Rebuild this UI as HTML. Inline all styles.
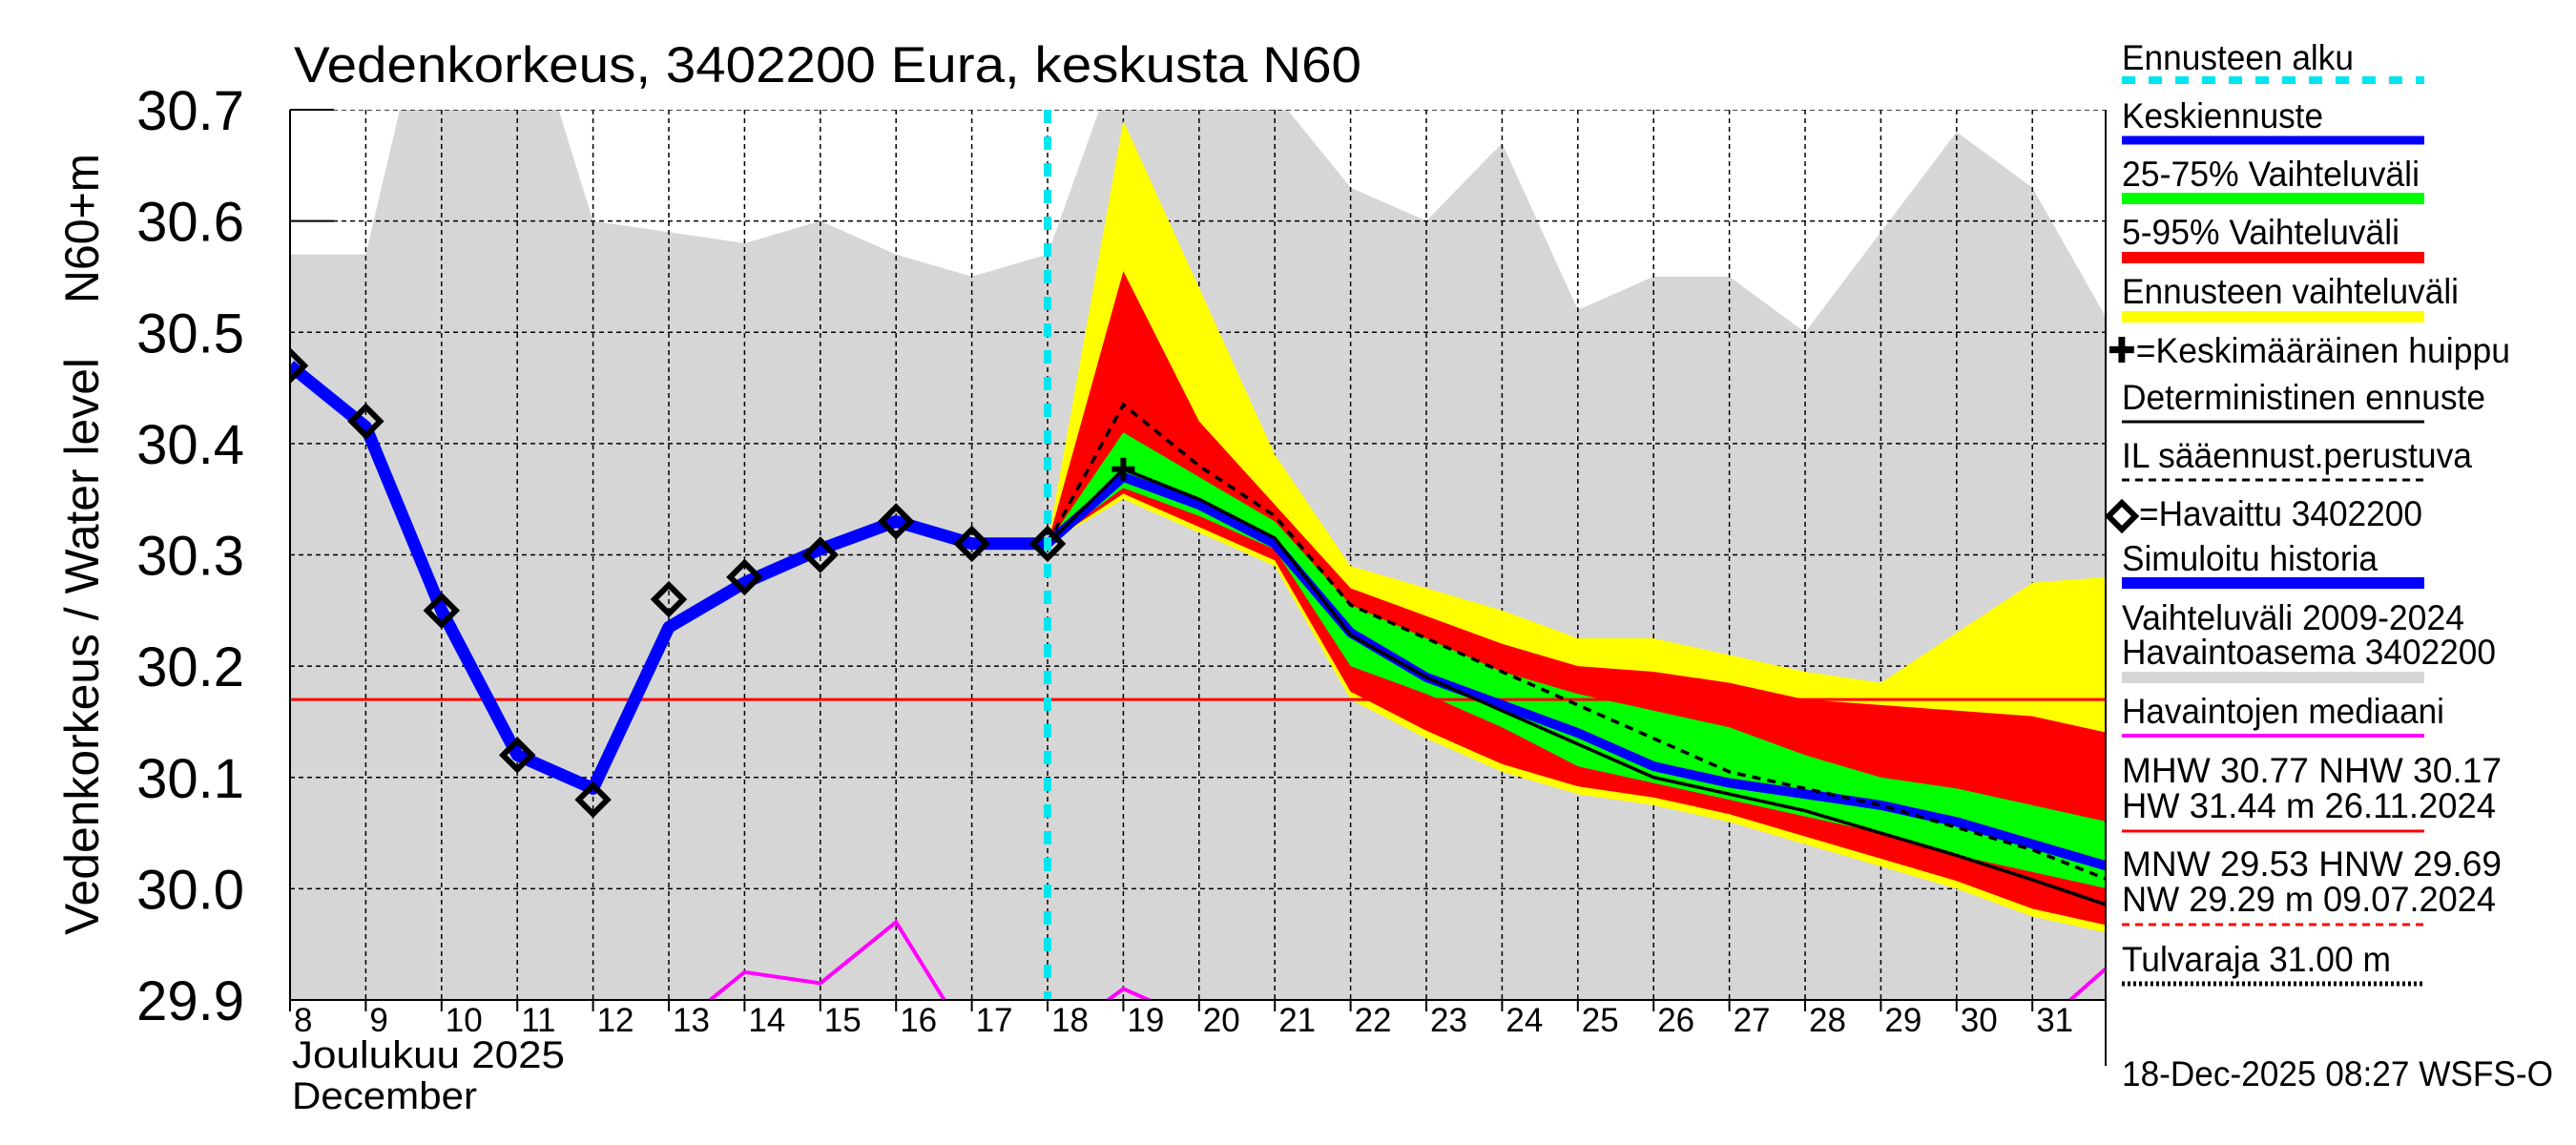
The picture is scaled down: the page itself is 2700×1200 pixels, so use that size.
<!DOCTYPE html>
<html><head><meta charset="utf-8"><style>
html,body{margin:0;padding:0;background:#fff;}
svg{display:block;font-family:"Liberation Sans",sans-serif;}
</style></head><body>
<svg id="chart" width="2700" height="1200" viewBox="0 0 2700 1200">
<defs><clipPath id="plotclip"><rect x="304" y="115" width="1903" height="933"/></clipPath></defs>
<g id="bands" clip-path="url(#plotclip)"></g>
<g id="axes"></g>
<g id="legend"></g>
</svg>
<script>
const days = [8,9,10,11,12,13,14,15,16,17,18,19,20,21,22,23,24,25,26,27,28,29,30,31,32];
const histUpper = [30.57,30.57,30.86,30.82,30.60,30.59,30.58,30.60,30.57,30.55,30.57,30.76,30.80,30.714,30.63,30.60,30.67,30.52,30.55,30.55,30.50,30.59,30.68,30.63,30.51];
const obsDays = [8,9,10,11,12,13,14,15,16,17,18];
const observed = [30.47,30.42,30.25,30.12,30.08,30.26,30.28,30.30,30.33,30.31,30.31];
const simulated = [30.47,30.415,30.25,30.12,30.09,30.235,30.275,30.305,30.33,30.31,30.31];
const fcDays = [18,19,20,21,22,23,24,25,26,27,28,29,30,31,32];
const yellowHi = [30.31,30.69,30.54,30.39,30.29,30.27,30.25,30.225,30.225,30.21,30.195,30.185,30.23,30.275,30.28];
const yellowLo = [30.31,30.35,30.32,30.29,30.17,30.135,30.105,30.085,30.075,30.06,30.04,30.02,30.0,29.975,29.96];
const redHi = [30.31,30.555,30.42,30.345,30.27,30.245,30.22,30.2,30.195,30.185,30.17,30.165,30.16,30.155,30.14];
const redLo = [30.31,30.355,30.325,30.295,30.177,30.142,30.112,30.092,30.082,30.067,30.047,30.027,30.007,29.982,29.967];
const greenHi = [30.31,30.41,30.37,30.33,30.255,30.225,30.195,30.175,30.16,30.145,30.12,30.1,30.09,30.075,30.06];
const greenLo = [30.31,30.36,30.335,30.305,30.2,30.175,30.145,30.11,30.095,30.08,30.065,30.05,30.03,30.015,30.0];
const meanFc = [30.31,30.37,30.345,30.31,30.23,30.19,30.165,30.14,30.11,30.095,30.085,30.075,30.06,30.04,30.02];
const determ = [30.31,30.377,30.35,30.315,30.228,30.19,30.16,30.13,30.1,30.085,30.07,30.05,30.03,30.008,29.985];
const ilFc = [30.31,30.435,30.38,30.335,30.255,30.225,30.195,30.165,30.135,30.105,30.09,30.075,30.055,30.035,30.008];
const median = [29.80,29.80,29.80,29.80,29.80,29.87,29.925,29.915,29.97,29.86,29.86,29.91,29.88,29.85,29.85,29.85,29.85,29.85,29.85,29.85,29.85,29.85,29.85,29.87,29.93];
const yTicks = [29.9,30.0,30.1,30.2,30.3,30.4,30.5,30.6,30.7];
const yTickLabels = ["29.9","30.0","30.1","30.2","30.3","30.4","30.5","30.6","30.7"];
const xTickLabels = ["8","9","10","11","12","13","14","15","16","17","18","19","20","21","22","23","24","25","26","27","28","29","30","31"];
const forecastStart = 18;
const medianLevel = 30.17;

const NS="http://www.w3.org/2000/svg";
const X = d => 304 + (d-8)*79.4;
const Y = v => 115 + (30.7-v)*1166.25;
const bands=document.getElementById('bands'), axes=document.getElementById('axes'), legend=document.getElementById('legend');
function mk(parent,tag,attrs){const e=document.createElementNS(NS,tag);for(const k in attrs)e.setAttribute(k,attrs[k]);parent.appendChild(e);return e;}
function pts(xs,vs){return xs.map((d,i)=>X(d).toFixed(1)+','+Y(vs[i]).toFixed(1)).join(' ');}
function bandPts(xs,hi,lo){return pts(xs,hi)+' '+pts(xs.slice().reverse(),lo.slice().reverse());}

let e;
e=mk(bands,'rect',{x:304,y:115,width:1903,height:933,fill:'#fff'});


e=mk(bands,'polygon',{points:pts(days,histUpper)+' '+X(32)+','+(Y(29.9)+20)+' '+X(8)+','+(Y(29.9)+20),fill:'#d6d6d6'});


yTicks.forEach(v=>{e=mk(bands,'line',{x1:304,x2:2207,y1:Y(v),y2:Y(v),stroke:'#000','stroke-width':1.5,'stroke-dasharray':'5,4'});

});
xTickLabels.forEach((t,i)=>{e=mk(bands,'line',{x1:X(8+i),x2:X(8+i),y1:115,y2:1048,stroke:'#000','stroke-width':1.5,'stroke-dasharray':'5,4'});

});
e=mk(bands,'polygon',{points:bandPts(fcDays,yellowHi,yellowLo),fill:'#ffff00'});


e=mk(bands,'polygon',{points:bandPts(fcDays,redHi,redLo),fill:'#ff0000'});


e=mk(bands,'polygon',{points:bandPts(fcDays,greenHi,greenLo),fill:'#00ff00'});


e=mk(bands,'line',{x1:304,x2:2207,y1:Y(medianLevel),y2:Y(medianLevel),stroke:'#ff0000','stroke-width':3});


e=mk(bands,'polyline',{points:pts(days,median),fill:'none',stroke:'#ff00ff','stroke-width':4});


e=mk(bands,'polyline',{points:pts(obsDays,simulated),fill:'none',stroke:'#0000ff','stroke-width':13,'stroke-linejoin':'round'});


e=mk(bands,'polyline',{points:pts(fcDays,meanFc),fill:'none',stroke:'#0000ff','stroke-width':10});


e=mk(bands,'polyline',{points:pts(fcDays,determ),fill:'none',stroke:'#000','stroke-width':3.5});


e=mk(bands,'polyline',{points:pts(fcDays,ilFc),fill:'none',stroke:'#000','stroke-width':3.5,'stroke-dasharray':'9,7'});


e=mk(bands,'line',{x1:X(forecastStart),x2:X(forecastStart),y1:115,y2:1048,stroke:'#00e5ee','stroke-width':8,'stroke-dasharray':'14,14'});


obsDays.forEach((d,i)=>{const cx=X(d),cy=Y(observed[i]);
e=mk(bands,'polygon',{points:`${cx},${cy-15} ${cx+15},${cy} ${cx},${cy+15} ${cx-15},${cy}`,fill:'none',stroke:'#000','stroke-width':6});

});
{const cx=X(19),cy=Y(determ[1]);
e=mk(bands,'path',{d:`M${cx-12},${cy}H${cx+12}M${cx},${cy-12}V${cy+12}`,stroke:'#000','stroke-width':6});

}

e=mk(axes,'line',{x1:304,x2:304,y1:115,y2:1048,stroke:'#000','stroke-width':2});


e=mk(axes,'line',{x1:304,x2:2207,y1:1048,y2:1048,stroke:'#000','stroke-width':2});


e=mk(axes,'line',{x1:2207,x2:2207,y1:115,y2:1117,stroke:'#000','stroke-width':2});


[30.7,30.6].forEach(v=>{e=mk(axes,'line',{x1:304,x2:350,y1:Y(v),y2:Y(v),stroke:'#000','stroke-width':2});

});
yTicks.forEach((v,i)=>{e=mk(axes,'text',{x:256,y:Y(v)+21,'font-size':58,'text-anchor':'end'});e.textContent=yTickLabels[i];

});
xTickLabels.forEach((t,i)=>{const x=X(8+i);
e=mk(axes,'line',{x1:x,x2:x,y1:1048,y2:1060,stroke:'#000','stroke-width':2});


e=mk(axes,'text',{x:x+4,y:1081,'font-size':35});e.textContent=t;

});
function txt(parent,x,y,size,s,name,len,extra){const a={x:x,y:y,'font-size':size};if(len){a.textLength=len;a.lengthAdjust='spacingAndGlyphs';}Object.assign(a,extra||{});const t=mk(parent,'text',a);t.textContent=s;return t;}
txt(axes,308,86,53,'Vedenkorkeus, 3402200 Eura, keskusta N60','chart-title',1119);
txt(axes,306,1119,40,'Joulukuu  2025','x-month-label',286,{'xml:space':'preserve'});
txt(axes,306,1162,40,'December','x-month-label-en',194);
txt(axes,0,0,50,'Vedenkorkeus / Water level','y-axis-title',605,{transform:'translate(103,980) rotate(-90)'});
txt(axes,0,0,50,'N60+m','y-axis-unit',157,{transform:'translate(103,318) rotate(-90)'});
txt(axes,2224,1138,37,'18-Dec-2025 08:27 WSFS-O','timestamp',452);

const L=2224, R=2541;
function lline(y,stroke,w,dash,name){const a={x1:L,x2:R,y1:y,y2:y,stroke:stroke,'stroke-width':w};if(dash)a['stroke-dasharray']=dash;const l=mk(legend,'line',a);}
txt(legend,L,73,37,'Ennusteen alku','legend-forecast-start',243); lline(84,'#00e5ee',8,'14,14','legend-forecast-start-line');
txt(legend,L,134,37,'Keskiennuste','legend-mean-forecast',211); lline(147,'#0000ff',9,null,'legend-mean-forecast-line');
txt(legend,L,195,37,'25-75% Vaihteluväli','legend-band-25-75',312); lline(208,'#00ff00',12,null,'legend-band-25-75-swatch');
txt(legend,L,256,37,'5-95% Vaihteluväli','legend-band-5-95',291); lline(270,'#ff0000',12,null,'legend-band-5-95-swatch');
txt(legend,L,318,37,'Ennusteen vaihteluväli','legend-forecast-range',353); lline(332,'#ffff00',12,null,'legend-forecast-range-swatch');
txt(legend,2209,380,37,'✚=Keskimääräinen huippu','legend-mean-peak',422);
txt(legend,L,429,37,'Deterministinen ennuste','legend-deterministic',381); lline(442,'#000',3,null,'legend-deterministic-line');
txt(legend,L,490,37,'IL sääennust.perustuva','legend-il-forecast',367); lline(503,'#000',3,'8,6','legend-il-forecast-line');
txt(legend,2242,551,37,'=Havaittu 3402200','legend-observed',297);
e=mk(legend,'polygon',{points:'2224,527 2238,541 2224,555 2210,541',fill:'none',stroke:'#000','stroke-width':6});


txt(legend,L,598,37,'Simuloitu historia','legend-simulated',268); lline(611,'#0000ff',12,null,'legend-simulated-line');
txt(legend,L,660,37,'Vaihteluväli 2009-2024','legend-hist-range',359);
txt(legend,L,696,37,'Havaintoasema 3402200','legend-hist-station',392); lline(710,'#d6d6d6',12,null,'legend-hist-range-swatch');
txt(legend,L,758,37,'Havaintojen mediaani','legend-median',338); lline(771,'#ff00ff',4,null,'legend-median-line');
txt(legend,L,820,37,'MHW  30.77 NHW  30.17','legend-mhw',398,{'xml:space':'preserve'});
txt(legend,L,857,37,'HW  31.44 m 26.11.2024','legend-hw',392,{'xml:space':'preserve'}); lline(871,'#ff0000',3,null,'legend-hw-line');
txt(legend,L,918,37,'MNW  29.53 HNW  29.69','legend-mnw',398,{'xml:space':'preserve'});
txt(legend,L,955,37,'NW  29.29 m 09.07.2024','legend-nw',392,{'xml:space':'preserve'}); lline(969,'#ff0000',3,'8,6','legend-nw-line');
txt(legend,L,1018,37,'Tulvaraja 31.00 m','legend-flood-limit',282); lline(1031,'#000',5,'3,3','legend-flood-limit-line');
</script>
</body></html>
